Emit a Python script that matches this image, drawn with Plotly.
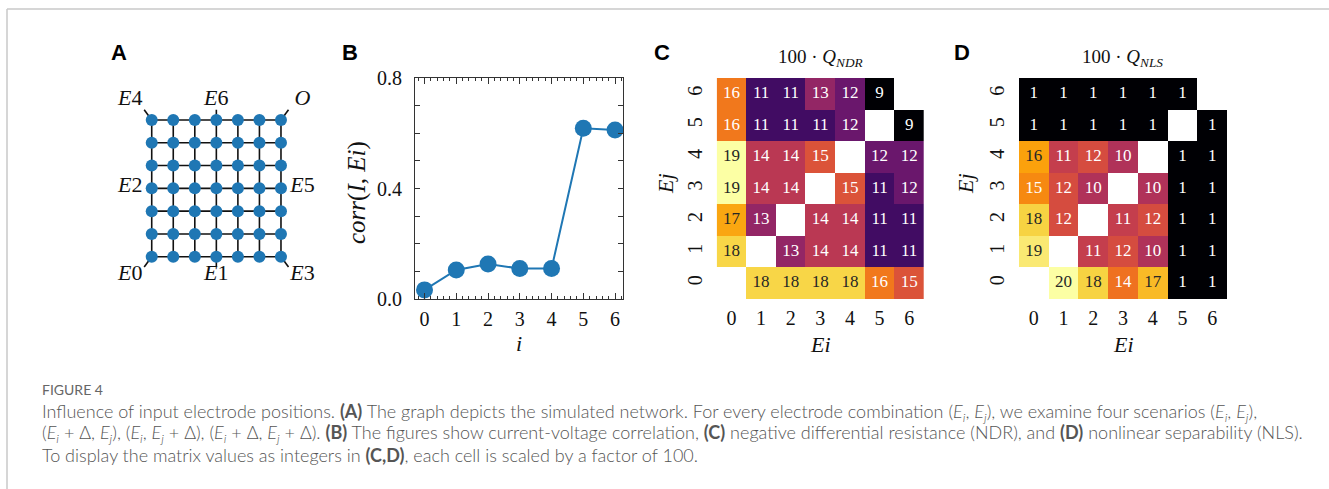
import plotly.graph_objects as go
import plotly.colors as pc

W, H = 1329, 489

# ---------------- data ----------------
# Panel A: 7x7 network, electrodes and their node (col, row)
grid_n = 7
electrode_names = ["E0", "E1", "E2", "E3", "E4", "E5", "E6", "O"]
electrode_nodes = [(0, 0), (3, 0), (0, 3), (6, 0), (0, 6), (6, 3), (3, 6), (6, 6)]

# Panel B: correlation between current and each electrode
corr_i = [0, 1, 2, 3, 4, 5, 6]
corr_vals = [0.033, 0.105, 0.127, 0.110, 0.110, 0.618, 0.612]

# Panels C, D: rows = Ej (0..6 bottom->top), cols = Ei (0..6)
mat_ticks = [0, 1, 2, 3, 4, 5, 6]
ndr = [
    [None, 18, 18, 18, 18, 16, 15],
    [18, None, 13, 14, 14, 11, 11],
    [17, 13, None, 14, 14, 11, 11],
    [19, 14, 14, None, 15, 11, 12],
    [19, 14, 14, 15, None, 12, 12],
    [16, 11, 11, 11, 12, None, 9],
    [16, 11, 11, 13, 12, 9, None],
]
nls = [
    [None, 20, 18, 14, 17, 1, 1],
    [19, None, 11, 12, 10, 1, 1],
    [18, 12, None, 11, 12, 1, 1],
    [15, 12, 10, None, 10, 1, 1],
    [16, 11, 12, 10, None, 1, 1],
    [1, 1, 1, 1, 1, None, 1],
    [1, 1, 1, 1, 1, 1, None],
]

# ---------------- helpers ----------------
def dom_x(l, r):
    return [l / W, r / W]

def dom_y(t, b):
    return [1 - b / H, 1 - t / H]

def px(x):
    return x / W

def py(y):
    return 1 - y / H

SERIF = "Liberation Serif"
BLUE = "#1f77b4"
INFERNO = pc.sequential.Inferno

def lum(rgb_str):
    vals = rgb_str[rgb_str.index("(") + 1:rgb_str.index(")")].split(",")
    out = []
    for v in vals[:3]:
        c = float(v) / 255.0
        c = c / 12.92 if c <= 0.03928 else ((c + 0.055) / 1.055) ** 2.4
        out.append(c)
    return 0.2126 * out[0] + 0.7152 * out[1] + 0.0722 * out[2]

fig = go.Figure()

# ---------------- Panel A ----------------
lx, ly = [], []
for k in range(grid_n):
    lx += [0, grid_n - 1, None]
    ly += [k, k, None]
    lx += [k, k, None]
    ly += [0, grid_n - 1, None]
c = (grid_n - 1) / 2
for (nx, ny) in electrode_nodes:
    dx = (nx > c) - (nx < c)
    dy = (ny > c) - (ny < c)
    if dy != 0:
        lx += [nx, nx + dx * 0.35, None]
        ly += [ny, ny + dy * 0.45, None]
fig.add_trace(go.Scatter(x=lx, y=ly, mode="lines", line=dict(color="#111", width=1.6),
                         xaxis="x", yaxis="y", hoverinfo="skip", showlegend=False))
nodes_x = [i for i in range(grid_n) for j in range(grid_n)]
nodes_y = [j for i in range(grid_n) for j in range(grid_n)]
fig.add_trace(go.Scatter(x=nodes_x, y=nodes_y, mode="markers",
                         marker=dict(color=BLUE, size=12, line=dict(width=0)),
                         xaxis="x", yaxis="y", cliponaxis=False, hoverinfo="skip", showlegend=False))
tx, ty, tt = [], [], []
for name, (nx, ny) in zip(electrode_names, electrode_nodes):
    dx = (nx > c) - (nx < c)
    dy = (ny > c) - (ny < c)
    ox = dx * 1.0
    oy = 0.88 if dy > 0 else (-0.8 if dy < 0 else 0.07)
    tx.append(nx + ox)
    ty.append(ny + oy)
    label = name if name == "O" else name[0] + "</i>" + name[1:] + "<i>"
    tt.append("<i>" + label + "</i>")
fig.add_trace(go.Scatter(x=tx, y=ty, mode="text", text=tt,
                         textfont=dict(family=SERIF, size=22, color="#111"),
                         xaxis="x", yaxis="y", cliponaxis=False, hoverinfo="skip", showlegend=False))

# ---------------- Panel B ----------------
fig.add_trace(go.Scatter(x=corr_i, y=corr_vals, mode="lines+markers",
                         line=dict(color=BLUE, width=2),
                         marker=dict(color=BLUE, size=17),
                         xaxis="x2", yaxis="y2", cliponaxis=False, showlegend=False))

# ---------------- Panels C, D ----------------
def add_matrix(mat, xa, ya, zmin, zmax):
    fig.add_trace(go.Heatmap(z=mat, x=mat_ticks, y=mat_ticks, colorscale="Inferno",
                             zmin=zmin, zmax=zmax, showscale=False, xgap=0, ygap=0,
                             xaxis=xa, yaxis=ya, hoverinfo="skip"))
    xs, ys, ts, cs = [], [], [], []
    for j, row in enumerate(mat):
        for i, v in enumerate(row):
            if v is None:
                continue
            t = (v - zmin) / (zmax - zmin)
            col = pc.sample_colorscale(INFERNO, [t])[0]
            xs.append(mat_ticks[i])
            ys.append(mat_ticks[j])
            ts.append(str(v))
            cs.append("#262626" if lum(col) > 0.408 else "white")
    fig.add_trace(go.Scatter(x=xs, y=ys, mode="text", text=ts,
                             textfont=dict(family=SERIF, size=17, color=cs),
                             xaxis=xa, yaxis=ya, hoverinfo="skip", showlegend=False))

add_matrix(ndr, "x3", "y3", 9, 19)
add_matrix(nls, "x4", "y4", 1, 20)

# ---------------- layout ----------------
tickfont = dict(family=SERIF, size=20, color="#111")
hidden = dict(visible=False, showgrid=False, zeroline=False, automargin=False)

ytv = [round(0.1 * k, 1) for k in range(9)]
ytt = [("%.1f" % v) if v in (0.0, 0.4, 0.8) else "" for v in ytv]

heat_x = dict(range=[-0.5, 6.5], tickvals=mat_ticks, ticks="", showline=False, showgrid=False,
              zeroline=False, tickfont=tickfont, ticklabelstandoff=5, fixedrange=True, automargin=False)
heat_y = dict(range=[-0.5, 6.5], tickvals=mat_ticks, ticks="", showline=False, showgrid=False,
              zeroline=False, tickfont=tickfont, tickangle=-90, ticklabelstandoff=10, fixedrange=True,
              automargin=False)

fig.update_layout(
    template="none",
    width=W, height=H, autosize=False,
    margin=dict(l=0, r=0, t=0, b=0, pad=0),
    paper_bgcolor="white", plot_bgcolor="white",
    showlegend=False,
    xaxis=dict(domain=dom_x(119.4, 313.3), range=[-1.5, 7.5], anchor="y", **hidden),
    yaxis=dict(domain=dom_y(85.8, 290.9), range=[-1.5, 7.5], anchor="x", **hidden),
    xaxis2=dict(domain=dom_x(415, 623), range=[-0.3, 6.25], tickvals=corr_i, anchor="y2",
                ticks="inside", ticklen=6, tickwidth=1, tickcolor="#333",
                showline=True, linecolor="#333", linewidth=1.2, mirror="ticks",
                minor=dict(ticks="inside", ticklen=3, dtick=0.2, tick0=0, tickcolor="#333", showgrid=False),
                showgrid=False, zeroline=False, tickfont=tickfont, ticklabelstandoff=2, automargin=False),
    yaxis2=dict(domain=dom_y(78, 299), range=[0, 0.8], tickvals=ytv, ticktext=ytt, anchor="x2",
                ticks="inside", ticklen=5, tickwidth=1, tickcolor="#333",
                showline=True, linecolor="#333", linewidth=1.2, mirror="ticks",
                showgrid=False, zeroline=False, tickfont=tickfont, ticklabelstandoff=8, automargin=False),
    xaxis3=dict(domain=dom_x(716.7, 924), anchor="y3", **heat_x),
    yaxis3=dict(domain=dom_y(78, 299), anchor="x3", **heat_y),
    xaxis4=dict(domain=dom_x(1019, 1227), anchor="y4", **heat_x),
    yaxis4=dict(domain=dom_y(78, 299), anchor="x4", **heat_y),
)

ann = []
P = dict(xref="paper", yref="paper", showarrow=False)
# panel letters
for letter, x in [("A", 119), ("B", 350), ("C", 662), ("D", 962)]:
    ann.append(dict(x=px(x), y=py(52), text="<b>%s</b>" % letter, xanchor="center", yanchor="middle",
                    font=dict(family="Liberation Sans", size=22, color="#000"), **P))
# axis titles
ttl = dict(family=SERIF, size=22, color="#111")
ann.append(dict(x=px(519), y=py(343), text="<i>i</i>", font=ttl, xanchor="center", yanchor="middle", **P))
ann.append(dict(x=px(357), y=py(193), text="<i>corr</i>(<i>I</i>, <i>Ei</i>)",
                font=dict(family=SERIF, size=25, color="#111"), textangle=-90,
                xanchor="center", yanchor="middle", **P))
ann.append(dict(x=px(820), y=py(344), text="<i>Ei</i>", font=ttl, xanchor="center", yanchor="middle", **P))
ann.append(dict(x=px(665), y=py(184), text="<i>Ej</i>", font=ttl, textangle=-90,
                xanchor="center", yanchor="middle", **P))
ann.append(dict(x=px(1123), y=py(344), text="<i>Ei</i>", font=ttl, xanchor="center", yanchor="middle", **P))
ann.append(dict(x=px(965), y=py(184), text="<i>Ej</i>", font=ttl, textangle=-90,
                xanchor="center", yanchor="middle", **P))
# heatmap titles
ann.append(dict(x=px(820), y=py(58), text="100 · <i>Q</i><sub><i>NDR</i></sub>",
                font=dict(family=SERIF, size=19, color="#111"), xanchor="center", yanchor="middle", **P))
ann.append(dict(x=px(1122), y=py(58), text="100 · <i>Q</i><sub><i>NLS</i></sub>",
                font=dict(family=SERIF, size=19, color="#111"), xanchor="center", yanchor="middle", **P))

# caption
EI = "<i>E<sub>i</sub></i>"
EJ = "<i>E<sub>j</sub></i>"
cap_lines = [
    "Influence of input electrode positions. <b>(A)</b> The graph depicts the simulated network. "
    "For every electrode combination (%s, %s), we examine four scenarios (%s, %s)," % (EI, EJ, EI, EJ),
    "(%s + Δ, %s), (%s, %s + Δ), (%s + Δ, %s + Δ). <b>(B)</b> The figures show current-voltage correlation, "
    "<b>(C)</b> negative differential resistance (NDR), and <b>(D)</b> nonlinear separability (NLS)."
    % (EI, EJ, EI, EJ, EI, EJ),
    "To display the matrix values as integers in <b>(C,D)</b>, each cell is scaled by a factor of 100.",
]
ann.append(dict(x=px(40), y=py(389), text="FIGURE 4", xanchor="left", yanchor="middle",
                font=dict(family="Lato", size=14, color="#666"), **P))
for yy, line in zip([412, 433.5, 455], cap_lines):
    ann.append(dict(x=px(40), y=py(yy), text=line, xanchor="left", yanchor="middle",
                    font=dict(family="Lato", size=18, color="#555", weight=300), **P))
fig.update_layout(annotations=ann)

# frame lines
fig.add_shape(type="line", xref="paper", yref="paper", x0=px(7), x1=1, y0=py(9), y1=py(9),
              line=dict(color="#c8c8c8", width=1.5))
fig.add_shape(type="line", xref="paper", yref="paper", x0=px(7), x1=px(7), y0=py(9), y1=0,
              line=dict(color="#c8c8c8", width=1.5))

fig.write_html("out.html", config={"displayModeBar": False},
               post_script="document.body.style.margin='0px';")
